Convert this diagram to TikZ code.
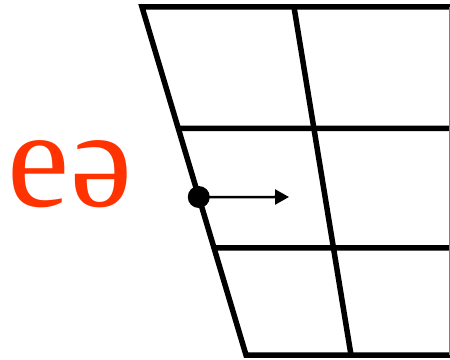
\documentclass[tikz,border=0pt]{standalone}
\usepackage{fontspec}
\newfontfamily\ipafont{Liberation Serif}
\usetikzlibrary{arrows.meta,positioning,calc}
\definecolor{ipared}{RGB}{255,51,0}

\begin{document}
\begin{tikzpicture}[x=1pt,y=1pt,
  grid/.style={line width=5.5pt,black},
  pt/.style={circle,fill=black,inner sep=0pt,minimum size=22pt},
  ar/.style={-{Triangle[length=14pt,width=15pt]},line width=2.5pt}]

  \useasboundingbox (0,0) rectangle (450,359);

  \coordinate (tl) at (142,352);
  \coordinate (bl) at (246,4);
  \coordinate (tr) at (452,352);
  \coordinate (br) at (452,4);
  \coordinate (tm) at (294,352);
  \coordinate (bm) at (351,4);

  \draw[grid] (tr) -- (tl) -- (bl) -- (br);
  \draw[grid] (tm) -- (bm);
  \draw[grid] ($(tl)!0.349!(bl)$) -- (452,230.5);
  \draw[grid] ($(tl)!0.6925!(bl)$) -- (452,111);
  \draw[gray,line width=1pt] (449.5,352) -- (449.5,4);

  \node[pt] (start) at ($(tl)!0.546!(bl)$) {};
  \coordinate (stop) at (289,162);
  \draw[ar] (start.center) -- (stop);

  \node[text=ipared,font=\ipafont\fontsize{140}{140}\selectfont,anchor=base] (eschwa) at (70,152) {eə};
\end{tikzpicture}
\end{document}
